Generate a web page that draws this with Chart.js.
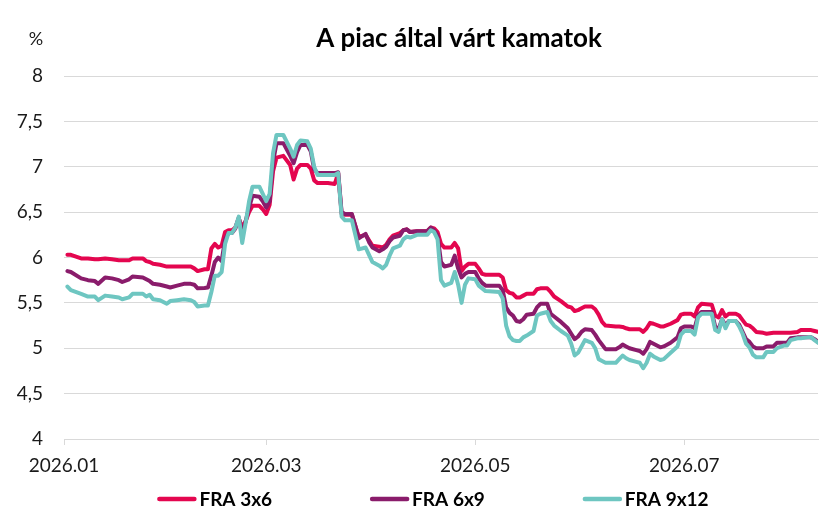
<!DOCTYPE html>
<html>
<head>
<meta charset="utf-8">
<script src="https://cdn.jsdelivr.net/npm/chart.js@4.4.1/dist/chart.umd.min.js"></script>
<style>
  html, body { margin: 0; padding: 0; background: #ffffff; }
  #wrap { width: 837px; height: 532px; position: relative; }
</style>
</head>
<body>
<div id="wrap"><canvas id="c" width="837" height="532"></canvas></div>
<script>
const chartTitle = 'A piac által várt kamatok';
const unitLabel = '%';
const seriesNames = ['FRA 3x6', 'FRA 6x9', 'FRA 9x12'];
const seriesColors = ['#E4064F', '#8A1C6B', '#6EC6C1'];

const dates = [
  '2026-01-02','2026-01-03','2026-01-06','2026-01-08','2026-01-10','2026-01-11','2026-01-13','2026-01-15','2026-01-17','2026-01-18',
  '2026-01-20','2026-01-21','2026-01-24','2026-01-25','2026-01-26','2026-01-27','2026-01-29','2026-01-31','2026-02-01','2026-02-03',
  '2026-02-05','2026-02-07','2026-02-08','2026-02-09','2026-02-11','2026-02-12','2026-02-13','2026-02-14','2026-02-15','2026-02-16',
  '2026-02-17','2026-02-18','2026-02-19','2026-02-20','2026-02-21','2026-02-22','2026-02-23','2026-02-24','2026-02-25','2026-02-27',
  '2026-02-28','2026-03-01','2026-03-02','2026-03-03','2026-03-04','2026-03-06','2026-03-08','2026-03-09','2026-03-10','2026-03-11',
  '2026-03-13','2026-03-14','2026-03-15','2026-03-16','2026-03-19','2026-03-21','2026-03-22','2026-03-23','2026-03-24','2026-03-26',
  '2026-03-27','2026-03-28','2026-03-30','2026-03-31','2026-04-01','2026-04-03','2026-04-04','2026-04-05','2026-04-06','2026-04-07',
  '2026-04-09','2026-04-10','2026-04-11','2026-04-12','2026-04-14','2026-04-17','2026-04-18','2026-04-19','2026-04-20','2026-04-21',
  '2026-04-22','2026-04-24','2026-04-25','2026-04-26','2026-04-27','2026-04-28','2026-04-29','2026-05-01','2026-05-02','2026-05-03',
  '2026-05-04','2026-05-08','2026-05-09','2026-05-10','2026-05-11','2026-05-12','2026-05-13','2026-05-14','2026-05-15','2026-05-16',
  '2026-05-18','2026-05-19','2026-05-20','2026-05-22','2026-05-23','2026-05-24','2026-05-26','2026-05-28','2026-05-29','2026-05-30',
  '2026-05-31','2026-06-01','2026-06-02','2026-06-04','2026-06-05','2026-06-06','2026-06-07','2026-06-08','2026-06-11','2026-06-12',
  '2026-06-13','2026-06-14','2026-06-15','2026-06-17','2026-06-18','2026-06-19','2026-06-20','2026-06-21','2026-06-22','2026-06-24',
  '2026-06-25','2026-06-27','2026-06-29','2026-06-30','2026-07-01','2026-07-03','2026-07-04','2026-07-05','2026-07-06','2026-07-09',
  '2026-07-10','2026-07-11','2026-07-12','2026-07-13','2026-07-14','2026-07-16','2026-07-17','2026-07-18','2026-07-19','2026-07-20',
  '2026-07-21','2026-07-22','2026-07-24','2026-07-25','2026-07-27','2026-07-28','2026-07-30','2026-07-31','2026-08-01','2026-08-03',
  '2026-08-04','2026-08-06','2026-08-07','2026-08-08','2026-08-09'
];

const fra3x6 = [
  6.03,6.03,5.99,5.99,5.98,5.98,5.99,5.98,5.97,5.97,
  5.97,5.99,5.99,5.96,5.95,5.93,5.92,5.90,5.90,5.90,
  5.90,5.90,5.88,5.85,5.87,5.87,6.10,6.15,6.11,6.13,
  6.28,6.30,6.30,6.33,6.43,6.33,6.40,6.50,6.57,6.57,
  6.53,6.48,6.58,6.95,7.10,7.12,7.02,6.86,6.98,7.02,
  7.02,6.98,6.85,6.82,6.82,6.81,6.93,6.48,6.47,6.47,
  6.35,6.23,6.25,6.19,6.13,6.12,6.11,6.14,6.20,6.24,
  6.27,6.30,6.31,6.28,6.29,6.29,6.33,6.32,6.28,6.15,
  6.11,6.11,6.16,6.10,5.85,5.90,5.93,5.93,5.88,5.82,
  5.81,5.81,5.78,5.64,5.61,5.60,5.56,5.56,5.58,5.60,
  5.60,5.65,5.66,5.66,5.62,5.57,5.52,5.46,5.45,5.41,
  5.42,5.44,5.46,5.46,5.43,5.37,5.29,5.25,5.24,5.24,
  5.235,5.22,5.21,5.21,5.21,5.18,5.22,5.28,5.27,5.24,
  5.24,5.27,5.31,5.37,5.38,5.38,5.35,5.45,5.49,5.48,
  5.36,5.34,5.42,5.35,5.38,5.38,5.36,5.31,5.26,5.25,
  5.22,5.18,5.17,5.16,5.17,5.17,5.17,5.17,5.17,5.18,
  5.20,5.20,5.20,5.19,5.18
];

const fra6x9 = [
  5.85,5.84,5.77,5.75,5.74,5.71,5.78,5.77,5.75,5.73,
  5.76,5.79,5.78,5.76,5.74,5.71,5.70,5.68,5.67,5.69,
  5.71,5.71,5.70,5.66,5.665,5.67,5.80,5.95,6.00,5.96,
  6.20,6.27,6.27,6.32,6.44,6.25,6.40,6.55,6.68,6.67,
  6.62,6.55,6.62,7.05,7.26,7.26,7.12,7.04,7.16,7.24,
  7.24,7.17,6.97,6.93,6.93,6.93,6.94,6.50,6.48,6.48,
  6.35,6.21,6.26,6.17,6.11,6.07,6.09,6.12,6.18,6.22,
  6.24,6.30,6.31,6.28,6.29,6.29,6.33,6.30,6.24,5.95,
  5.90,5.92,6.02,5.88,5.78,5.82,5.84,5.84,5.77,5.72,
  5.69,5.69,5.64,5.45,5.39,5.36,5.30,5.29,5.32,5.37,
  5.38,5.45,5.49,5.49,5.38,5.35,5.29,5.22,5.16,5.10,
  5.13,5.18,5.21,5.20,5.15,5.09,5.04,4.99,4.99,5.01,
  5.04,5.02,5.00,4.98,4.97,4.94,4.99,5.07,5.05,5.01,
  5.02,5.06,5.12,5.22,5.24,5.24,5.22,5.36,5.40,5.40,
  5.24,5.21,5.32,5.25,5.30,5.30,5.26,5.18,5.10,5.07,
  5.02,5.00,5.00,5.02,5.02,5.06,5.06,5.06,5.11,5.12,
  5.12,5.12,5.12,5.10,5.07
];

const fra9x12 = [
  5.68,5.64,5.60,5.57,5.57,5.53,5.58,5.57,5.56,5.54,
  5.56,5.60,5.60,5.57,5.59,5.54,5.53,5.49,5.52,5.53,
  5.54,5.53,5.51,5.46,5.47,5.47,5.62,5.80,5.80,5.84,
  6.15,6.27,6.27,6.33,6.45,6.16,6.38,6.62,6.78,6.78,
  6.70,6.62,6.70,7.15,7.35,7.35,7.20,7.11,7.24,7.29,
  7.28,7.20,7.00,6.91,6.91,6.91,6.93,6.45,6.41,6.41,
  6.25,6.09,6.11,6.03,5.95,5.91,5.88,5.92,6.02,6.10,
  6.13,6.20,6.23,6.22,6.25,6.25,6.30,6.28,6.20,5.75,
  5.69,5.72,5.84,5.70,5.50,5.70,5.77,5.76,5.69,5.66,
  5.63,5.62,5.55,5.25,5.13,5.09,5.08,5.08,5.12,5.14,
  5.19,5.36,5.38,5.40,5.30,5.25,5.19,5.14,5.05,4.92,
  4.95,5.02,5.09,5.06,5.00,4.88,4.86,4.84,4.84,4.88,
  4.92,4.89,4.87,4.85,4.84,4.78,4.84,4.94,4.91,4.87,
  4.88,4.95,5.02,5.15,5.19,5.19,5.15,5.34,5.38,5.38,
  5.20,5.18,5.32,5.22,5.30,5.30,5.24,5.16,5.05,5.01,
  4.93,4.90,4.90,4.96,4.96,5.00,5.03,5.03,5.09,5.11,
  5.11,5.12,5.12,5.09,5.06
];

const tickDates = ['2026-01-01', '2026-03-01', '2026-05-01', '2026-07-01'];
const tickLabels = ['2026.01', '2026.03', '2026.05', '2026.07'];
const yMin = 4, yMax = 8, yStep = 0.5;

const FONT = 'Lato, "Noto Sans", sans-serif';

function dayIndex(s) {
  const p = s.split('-').map(Number);
  return (Date.UTC(p[0], p[1] - 1, p[2]) - Date.UTC(2026, 0, 1)) / 86400000;
}

const seriesValues = [fra3x6, fra6x9, fra9x12];
const datasets = seriesValues.map((vals, k) => ({
  label: seriesNames[k],
  data: dates.map((d, i) => ({ x: dayIndex(d), y: vals[i] })),
  borderColor: seriesColors[k],
  backgroundColor: seriesColors[k],
  borderWidth: 4,
  pointRadius: 0,
  tension: 0,
  borderJoinStyle: 'round',
  borderCapStyle: 'round',
  fill: false,
  order: 2 - k
}));

const decorPlugin = {
  id: 'decor',
  afterDraw(chart) {
    const ctx = chart.ctx;
    ctx.save();
    // title
    ctx.fillStyle = '#000000';
    ctx.font = 'bold 26px ' + FONT;
    ctx.textAlign = 'center';
    ctx.textBaseline = 'middle';
    ctx.fillText(chartTitle, 459, 39);
    // unit
    ctx.font = '18px ' + FONT;
    ctx.fillStyle = '#1a1a1a';
    ctx.fillText(unitLabel, 36, 39);
    // legend
    ctx.font = 'bold 19px ' + FONT;
    ctx.textAlign = 'left';
    const lineLen = 39, gapText = 3, gapItem = 98;
    const items = chart.data.datasets.map(ds => ({
      label: ds.label, color: ds.borderColor,
      w: lineLen + gapText + ctx.measureText(ds.label).width
    }));
    const total = items.reduce((a, it) => a + it.w, 0) + gapItem * (items.length - 1);
    let x = 433 - total / 2;
    const y = 499;
    items.forEach(it => {
      ctx.strokeStyle = it.color;
      ctx.lineWidth = 4.5;
      ctx.lineCap = 'round';
      ctx.beginPath();
      ctx.moveTo(x + 2, y);
      ctx.lineTo(x + lineLen - 2, y);
      ctx.stroke();
      ctx.fillStyle = '#000000';
      ctx.fillText(it.label, x + lineLen + gapText, y + 1);
      x += it.w + gapItem;
    });
    ctx.restore();
  }
};

new Chart(document.getElementById('c'), {
  type: 'line',
  data: { datasets },
  plugins: [decorPlugin],
  options: {
    responsive: false,
    animation: false,
    devicePixelRatio: 1,
    layout: { padding: { top: 76, right: 19, left: 0, bottom: 0 } },
    plugins: {
      legend: { display: false },
      title: { display: false },
      tooltip: { enabled: false }
    },
    scales: {
      x: {
        type: 'linear',
        min: dayIndex(tickDates[0]),
        max: dayIndex(dates[dates.length - 1]),
        afterBuildTicks(scale) {
          scale.ticks = tickDates.map(d => ({ value: dayIndex(d) }));
        },
        afterFit(scale) { scale.height = 93; },
        ticks: {
          autoSkip: false,
          maxRotation: 0,
          padding: 9,
          color: '#1a1a1a',
          font: { family: FONT, size: 19 },
          callback(value, index) { return tickLabels[index]; }
        },
        grid: {
          drawOnChartArea: false,
          drawTicks: true,
          tickLength: 6,
          color: '#D9D9D9'
        },
        border: { display: true, color: '#D9D9D9', width: 1 }
      },
      y: {
        min: yMin,
        max: yMax,
        afterFit(scale) { scale.width = 64; },
        ticks: {
          stepSize: yStep,
          padding: 21,
          color: '#1a1a1a',
          font: { family: FONT, size: 19 },
          callback(v) { return String(v).replace('.', ','); }
        },
        grid: { color: '#D9D9D9', lineWidth: 1, drawTicks: false },
        border: { display: false }
      }
    }
  }
});
</script>
</body>
</html>
